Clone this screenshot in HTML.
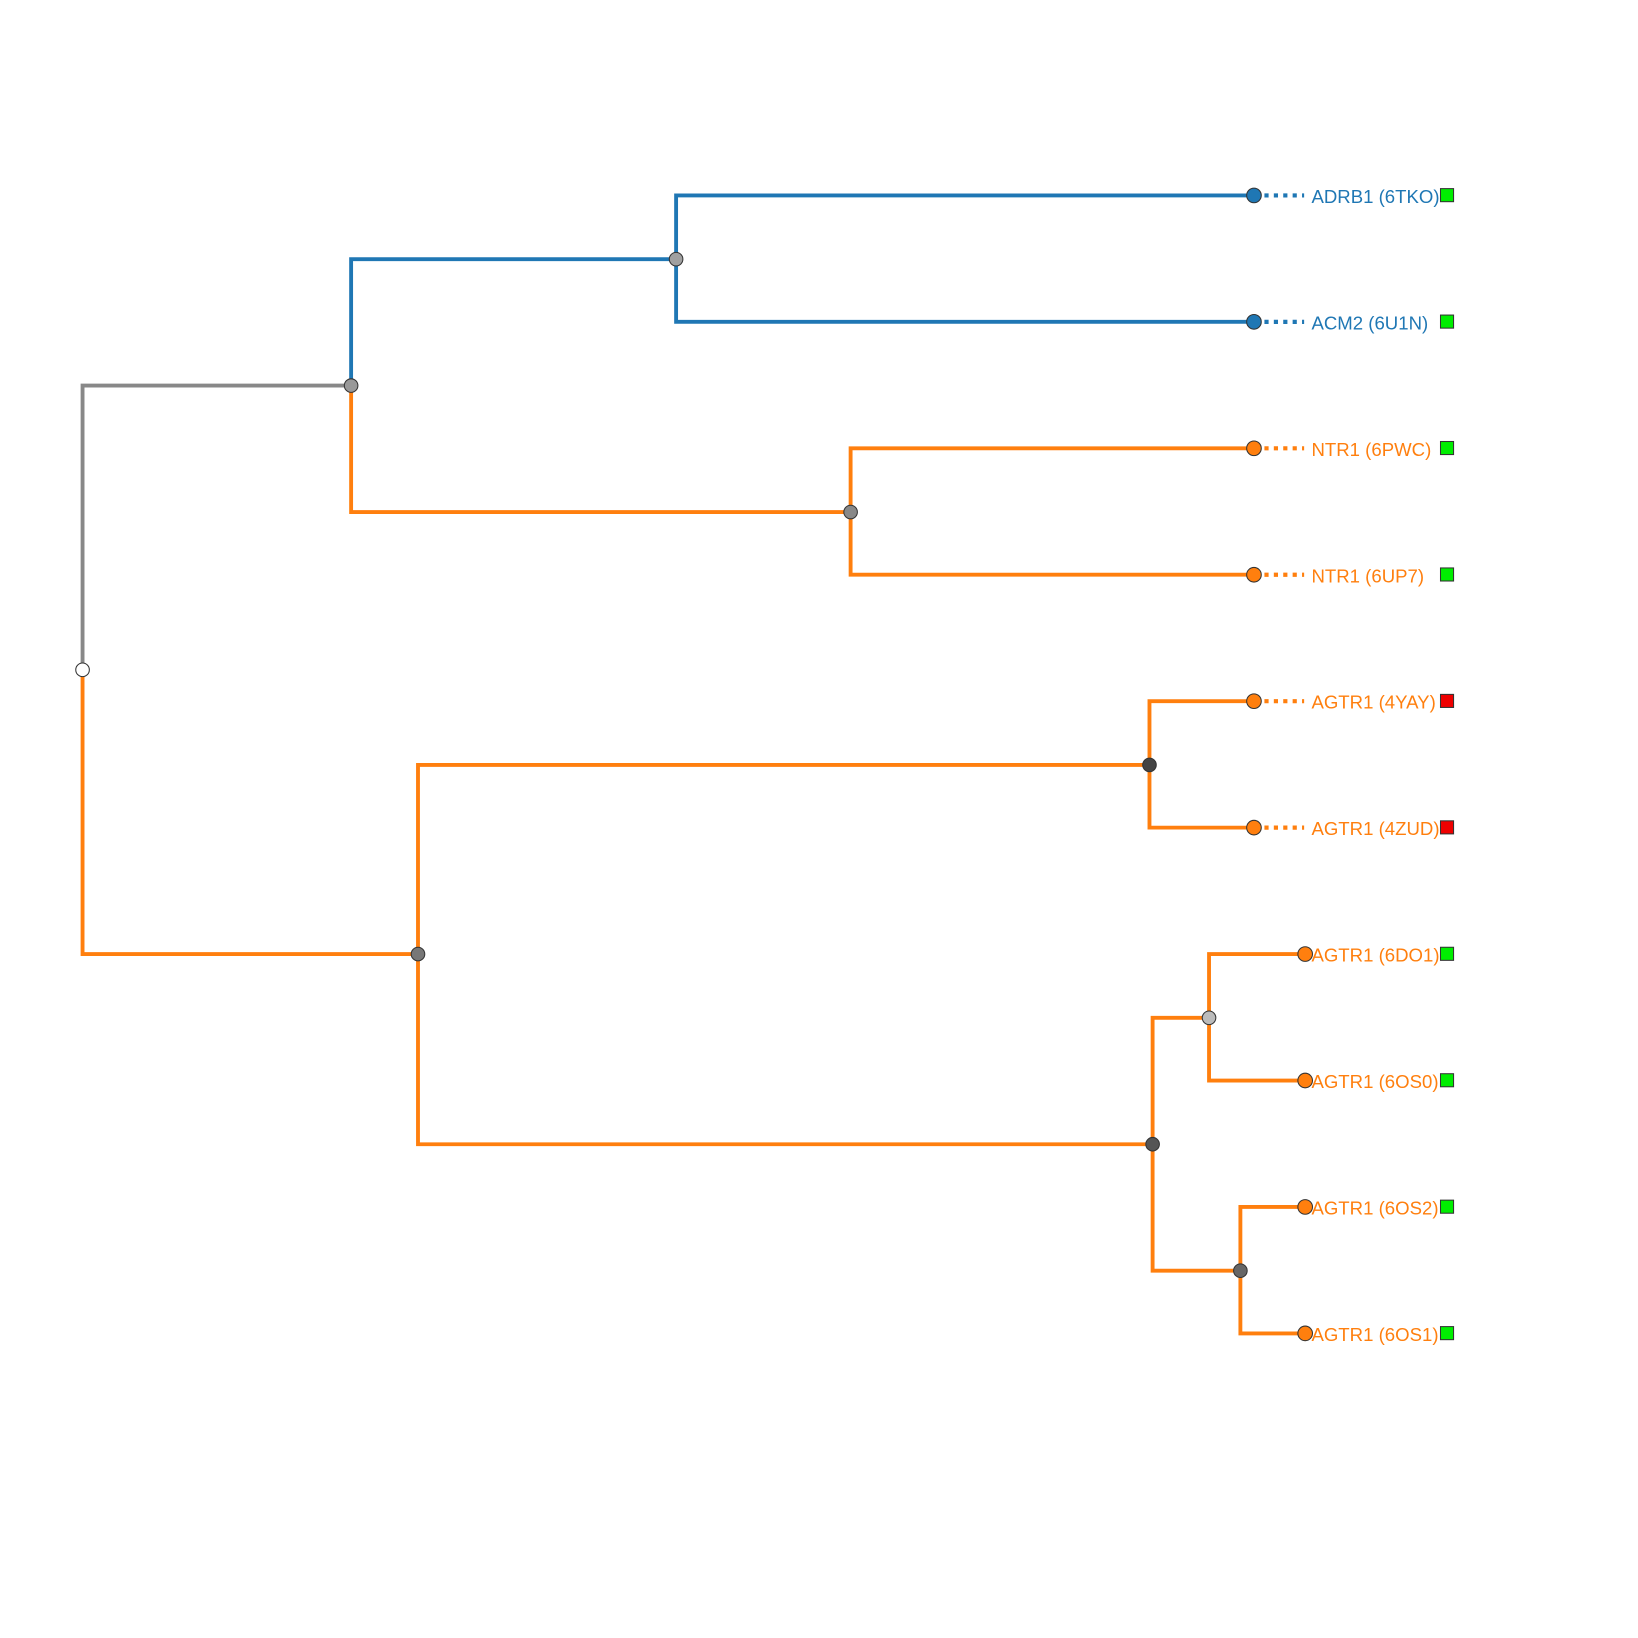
<!DOCTYPE html>
<html><head><meta charset="utf-8"><style>
html,body{margin:0;padding:0;background:#fff;}
svg{display:block;}
text{font-family:"Liberation Sans",Arial,sans-serif;font-size:17.8px;}
</style></head><body>
<svg width="1638" height="1638" viewBox="0 0 1567.5 1567.5" xmlns="http://www.w3.org/2000/svg">
<g fill="none" stroke-width="3.7" stroke-linecap="square">
<path d="M79,641 V369 H336" stroke="#888"/>
<path d="M79,641 V913 H400" stroke="#ff7f0e"/>
<path d="M336,369 V248 H647" stroke="#1f77b4"/>
<path d="M336,369 V490 H814" stroke="#ff7f0e"/>
<path d="M647,248 V187 H1200 M647,248 V308 H1200" stroke="#1f77b4"/>
<path d="M814,490 V429 H1200 M814,490 V550 H1200" stroke="#ff7f0e"/>
<path d="M400,913 V732 H1100 M400,913 V1095 H1103" stroke="#ff7f0e"/>
<path d="M1100,732 V671 H1200 M1100,732 V792 H1200" stroke="#ff7f0e"/>
<path d="M1103,1095 V974 H1157 M1103,1095 V1216 H1187" stroke="#ff7f0e"/>
<path d="M1157,974 V913 H1249 M1157,974 V1034 H1249" stroke="#ff7f0e"/>
<path d="M1187,1216 V1155 H1249 M1187,1216 V1276 H1249" stroke="#ff7f0e"/>
</g>
<g fill="none" stroke-width="4" stroke-dasharray="4,5">
<path d="M1210,187 H1248 M1210,308 H1248" stroke="#1f77b4"/>
<path d="M1210,429 H1248 M1210,550 H1248 M1210,671 H1248 M1210,792 H1248" stroke="#ff7f0e"/>
</g>
<g stroke="#333" stroke-width="1">
<circle cx="79" cy="641" r="6.5" fill="#fff"/>
<circle cx="336" cy="369" r="6.5" fill="#999"/>
<circle cx="647" cy="248" r="6.5" fill="#a0a0a0"/>
<circle cx="814" cy="490" r="6.5" fill="#888"/>
<circle cx="400" cy="913" r="6.5" fill="#777"/>
<circle cx="1100" cy="732" r="6.5" fill="#444"/>
<circle cx="1103" cy="1095" r="6.5" fill="#555"/>
<circle cx="1157" cy="974" r="6.5" fill="#bbb"/>
<circle cx="1187" cy="1216" r="6.5" fill="#666"/>
<circle cx="1200" cy="187" r="7" fill="#1f77b4"/>
<circle cx="1200" cy="308" r="7" fill="#1f77b4"/>
<circle cx="1200" cy="429" r="7" fill="#ff7f0e"/>
<circle cx="1200" cy="550" r="7" fill="#ff7f0e"/>
<circle cx="1200" cy="671" r="7" fill="#ff7f0e"/>
<circle cx="1200" cy="792" r="7" fill="#ff7f0e"/>
<circle cx="1249" cy="913" r="7" fill="#ff7f0e"/>
<circle cx="1249" cy="1034" r="7" fill="#ff7f0e"/>
<circle cx="1249" cy="1155" r="7" fill="#ff7f0e"/>
<circle cx="1249" cy="1276" r="7" fill="#ff7f0e"/>
</g>
<g dominant-baseline="central">
<text x="1255" y="188" fill="#1f77b4">ADRB1 (6TKO)</text>
<text x="1255" y="309" fill="#1f77b4">ACM2 (6U1N)</text>
<text x="1255" y="430" fill="#ff7f0e">NTR1 (6PWC)</text>
<text x="1255" y="551" fill="#ff7f0e">NTR1 (6UP7)</text>
<text x="1255" y="672" fill="#ff7f0e">AGTR1 (4YAY)</text>
<text x="1255" y="793" fill="#ff7f0e">AGTR1 (4ZUD)</text>
<text x="1255" y="914" fill="#ff7f0e">AGTR1 (6DO1)</text>
<text x="1255" y="1035" fill="#ff7f0e">AGTR1 (6OS0)</text>
<text x="1255" y="1156" fill="#ff7f0e">AGTR1 (6OS2)</text>
<text x="1255" y="1277" fill="#ff7f0e">AGTR1 (6OS1)</text>
</g>
<g stroke="#333" stroke-width="1">
<rect x="1378.5" y="180.5" width="12.5" height="12.5" fill="#00ee00"/>
<rect x="1378.5" y="301.5" width="12.5" height="12.5" fill="#00ee00"/>
<rect x="1378.5" y="422.5" width="12.5" height="12.5" fill="#00ee00"/>
<rect x="1378.5" y="543.5" width="12.5" height="12.5" fill="#00ee00"/>
<rect x="1378.5" y="664.5" width="12.5" height="12.5" fill="#ee0000"/>
<rect x="1378.5" y="785.5" width="12.5" height="12.5" fill="#ee0000"/>
<rect x="1378.5" y="906.5" width="12.5" height="12.5" fill="#00ee00"/>
<rect x="1378.5" y="1027.5" width="12.5" height="12.5" fill="#00ee00"/>
<rect x="1378.5" y="1148.5" width="12.5" height="12.5" fill="#00ee00"/>
<rect x="1378.5" y="1269.5" width="12.5" height="12.5" fill="#00ee00"/>
</g>
</svg>
</body></html>
